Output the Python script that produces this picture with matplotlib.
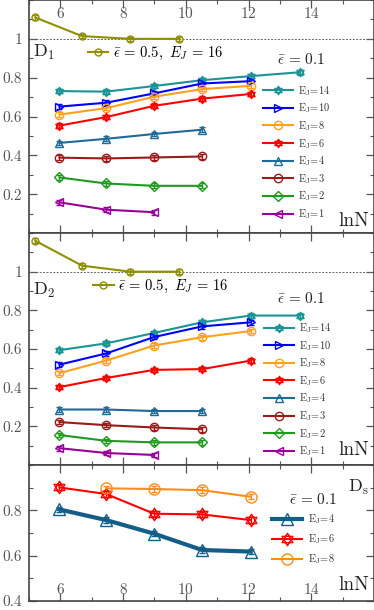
import numpy as np
import matplotlib.pyplot as plt
from matplotlib.path import Path
from matplotlib.ticker import MultipleLocator, FixedLocator

plt.rcParams['font.family'] = 'cmr10'
plt.rcParams['mathtext.fontset'] = 'cm'
plt.rcParams['axes.formatter.use_mathtext'] = True

# x positions (lnN)
lnN = [5.97, 7.46, 8.99, 10.52, 12.07, 13.64]
lnN_olive = [5.2, 6.69, 8.23, 9.79]

# D1 panel
d1_olive = [1.11, 1.014, 1.0, 1.0]
d1_ej14 = [0.731, 0.728, 0.757, 0.787, 0.808, 0.828]
d1_ej10 = [0.651, 0.671, 0.719, 0.770, 0.782]
d1_ej8 = [0.610, 0.643, 0.702, 0.741, 0.758]
d1_ej6 = [0.553, 0.597, 0.655, 0.692, 0.716]
d1_ej4 = [0.464, 0.485, 0.510, 0.532]
d1_ej3 = [0.388, 0.384, 0.389, 0.394]
d1_ej2 = [0.286, 0.255, 0.243, 0.243]
d1_ej1 = [0.158, 0.120, 0.107]

# D2 panel
d2_olive = [1.16, 1.031, 1.0, 1.0]
d2_ej14 = [0.594, 0.629, 0.683, 0.738, 0.773, 0.773]
d2_ej10 = [0.519, 0.577, 0.662, 0.717, 0.738]
d2_ej8 = [0.475, 0.540, 0.618, 0.661, 0.693]
d2_ej6 = [0.403, 0.450, 0.492, 0.496, 0.540]
d2_ej4 = [0.287, 0.287, 0.279, 0.279]
d2_ej3 = [0.222, 0.206, 0.194, 0.185]
d2_ej2 = [0.155, 0.125, 0.117, 0.117]
d2_ej1 = [0.087, 0.062, 0.052]

# Ds panel
ds_ej4 = [0.804, 0.757, 0.697, 0.625, 0.618]
ds_ej6 = [0.901, 0.872, 0.785, 0.782, 0.757]
ds_ej8 = [0.897, 0.894, 0.889, 0.860]
ds_x8 = [7.46, 8.99, 10.52, 12.07]

err = 0.012

# star of David marker
ang_up = np.deg2rad([90, 210, 330])
ang_dn = np.deg2rad([270, 30, 150])
verts = [(np.cos(a), np.sin(a)) for a in ang_up] + [(0, 0)] + \
        [(np.cos(a), np.sin(a)) for a in ang_dn] + [(0, 0)]
codes = [Path.MOVETO, Path.LINETO, Path.LINETO, Path.CLOSEPOLY] * 2
hexagram = Path(verts, codes)

teal = '#1a9494'
blue = '#0000ff'
orange = '#ffa21a'
red = '#ff0000'
steel = '#1f6a96'
dred = '#9c1a1a'
green = '#1f9a1f'
purple = '#990099'
olive = '#8f8f00'

fig = plt.figure(figsize=(3.74, 6.1), dpi=100)
L, W = 29 / 374, 345 / 374
ax1 = fig.add_axes([L, 1 - 233 / 610, W, 233 / 610])
ax2 = fig.add_axes([L, 1 - 465 / 610, W, 232 / 610])
ax3 = fig.add_axes([L, 1 - 601 / 610, W, 136 / 610])


def draw(ax, x, y, color, marker, ms=6, lw=1.5):
    c = ax.errorbar(x, y, yerr=err, color=color, marker=marker, mfc='none',
                    mec=color, ms=ms, lw=lw, mew=1.0, capsize=2.5,
                    elinewidth=0.9)
    return c[0]


def style(ax, ylim, yticks):
    ax.set_xlim(5, 16)
    ax.set_ylim(*ylim)
    ax.set_yticks(yticks)
    ax.set_yticklabels([f'{t:g}' for t in yticks])
    ax.xaxis.set_major_locator(FixedLocator([6, 8, 10, 12, 14]))
    ax.xaxis.set_minor_locator(MultipleLocator(1))
    ax.yaxis.set_minor_locator(MultipleLocator(0.1))
    ax.tick_params(which='both', direction='in', top=True, right=True,
                   colors='#555555', labelsize=11)
    ax.tick_params(which='major', length=6, width=0.9)
    ax.tick_params(which='minor', length=3, width=0.8)
    ax.tick_params(axis='y', pad=5)
    for s in ax.spines.values():
        s.set_color('#444444')
        s.set_linewidth(1.2)


def ej_legend(ax, handles, labels, anchor, spacing):
    leg = ax.legend(handles, labels, loc='upper left', bbox_to_anchor=anchor,
                    frameon=False, fontsize=7.5, handlelength=2.9,
                    handletextpad=0.5, labelspacing=spacing, borderpad=0,
                    borderaxespad=0)
    for t in leg.get_texts():
        t.set_color('#333333')
    return leg


series1 = [(d1_ej14, teal, hexagram, '14'), (d1_ej10, blue, '>', '10'),
           (d1_ej8, orange, 'o', '8'), (d1_ej6, red, hexagram, '6'),
           (d1_ej4, steel, '^', '4'), (d1_ej3, dred, 'o', '3'),
           (d1_ej2, green, 'D', '2'), (d1_ej1, purple, '<', '1')]
series2 = [(d2_ej14, teal, hexagram, '14'), (d2_ej10, blue, '>', '10'),
           (d2_ej8, orange, 'o', '8'), (d2_ej6, red, hexagram, '6'),
           (d2_ej4, steel, '^', '4'), (d2_ej3, dred, 'o', '3'),
           (d2_ej2, green, 'D', '2'), (d2_ej1, purple, '<', '1')]

for ax, ser, oly, dname, dy, oanchor, lanchor, lny, ty in [
        (ax1, series1, d1_olive, r'D$_1$', 0.755, (0.171, 0.772), (0.677, 0.64), 0.03, 0.725),
        (ax2, series2, d2_olive, r'D$_2$', 0.733, (0.186, 0.771), (0.68, 0.62), 0.043, 0.70)]:
    ax.axhline(1, color='#666666', lw=0.7, ls=(0, (2, 1.5)))
    oh = draw(ax, lnN_olive, oly, olive, 'o', ms=5)
    handles, labels = [], []
    for y, c, m, e in ser:
        ms = 5 if m == 'D' else 6
        handles.append(draw(ax, lnN[:len(y)], y, c, m, ms=ms))
        labels.append(r'E$_\mathrm{J}$=' + e)
    style(ax, (0, 1.2), [0.2, 0.4, 0.6, 0.8, 1])
    leg = ej_legend(ax, handles, labels, lanchor, 0.37)
    ax.legend([oh], [r'$\bar{\epsilon}\, =\, 0.5,\ E_J\, =\, 16$'], loc='center left',
              bbox_to_anchor=oanchor, frameon=False, fontsize=10.5,
              handlelength=1.4, handletextpad=0.3, borderpad=0, borderaxespad=0)
    ax.add_artist(leg)
    ax.text(0.012, dy, dname, transform=ax.transAxes, fontsize=13, color='#222222')
    ax.text(0.79, ty, r'$\bar{\epsilon}\, =\, 0.1$', transform=ax.transAxes,
            fontsize=11, ha='center', color='#222222')
    ax.text(0.985, lny, 'lnN', transform=ax.transAxes, fontsize=14, ha='right',
            va='baseline', color='#222222')

ax1.tick_params(axis='x', which='major', labeltop=True, labelbottom=False, pad=-15)
ax2.tick_params(axis='x', labelbottom=False)

# Ds panel
h4 = draw(ax3, lnN[:5], ds_ej4, '#135d87', '^', ms=9, lw=3)
h6 = draw(ax3, lnN[:5], ds_ej6, red, hexagram, ms=9, lw=1.5)
h8 = draw(ax3, ds_x8, ds_ej8, '#ff8c1a', 'o', ms=8, lw=1.5)
style(ax3, (0.4, 1.0), [0.4, 0.6, 0.8])
ax3.tick_params(axis='x', which='major', pad=-14)
ej_legend(ax3, [h4, h6, h8], [r'E$_\mathrm{J}$=4', r'E$_\mathrm{J}$=6', r'E$_\mathrm{J}$=8'],
          (0.705, 0.65), 0.6)
ax3.text(0.825, 0.71, r'$\bar{\epsilon}\, =\, 0.1$', transform=ax3.transAxes,
         fontsize=11, ha='center', color='#222222')
ax3.text(0.985, 0.80, r'D$_\mathrm{s}$', transform=ax3.transAxes, fontsize=13,
         ha='right', color='#222222')
ax3.text(0.985, 0.08, 'lnN', transform=ax3.transAxes, fontsize=14, ha='right',
         va='baseline', color='#222222')

fig.savefig('out.png', dpi=100)
